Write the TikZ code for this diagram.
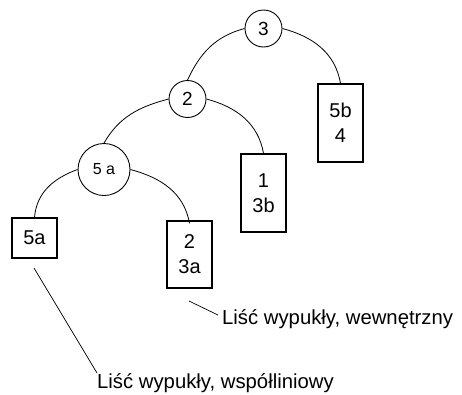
\documentclass[tikz,border=0pt]{standalone}
\usepackage{fontspec}
\setmainfont{Liberation Sans}
\begin{document}
\begin{tikzpicture}[x=1pt,y=-1pt,
  circ/.style={draw,circle,line width=0.9pt,inner sep=0pt,font=\fontsize{19}{22}\selectfont},
  leaf/.style={draw,rectangle,line width=1.4pt,inner sep=0pt,minimum width=45pt,align=center,font=\fontsize{20}{25}\selectfont},
  arcline/.style={line width=0.8pt},
  lead/.style={line width=0.7pt},
  lbl/.style={inner sep=0pt,font=\fontsize{20.3}{24}\selectfont}]
\useasboundingbox (0,0) rectangle (462,394);
\node[circ,minimum size=37pt] (c3) at (263.5,28.5) {3};
\node[circ,minimum size=37pt] (c2) at (187.5,99) {2};
\node[circ,minimum size=52pt,font=\fontsize{16}{18}\selectfont] (c5) at (104,169.5) {5 a};
\node[leaf,minimum height=78pt] (b54) at (340.5,123) {5b\\4};
\node[leaf,minimum height=78pt] (b13) at (263.5,193) {1\\3b};
\node[leaf,minimum height=40pt] (b5a) at (34.5,238) {5a};
\node[leaf,minimum height=67pt] (b23) at (189.5,254.5) {2\\3a};
\draw[arcline] (c3.west) to[out=195,in=65] (c2.north);
\draw[arcline] (c3.east) to[out=-15,in=100] (b54.north);
\draw[arcline] (c2.west) to[out=195,in=60] (c5.north);
\draw[arcline] (c2.east) to[out=-15,in=100] (b13.north);
\draw[arcline] (c5.west) to[out=200,in=85] (b5a.north);
\draw[arcline] (c5.east) to[out=-15,in=100] ([yshift=-3pt]b23.north);
\node[lbl,anchor=base west] (t1) at (222,324) {Liść wypukły, wewnętrzny};
\node[lbl,anchor=base west] (t2) at (97,388) {Liść wypukły, współliniowy};
\coordinate (p1) at (189,301);
\coordinate (q1) at (218,315);
\coordinate (p2) at (34,268);
\coordinate (q2) at (97,373);
\draw[lead] (p1) -- (q1);
\draw[lead] (p2) -- (q2);
\end{tikzpicture}
\end{document}
